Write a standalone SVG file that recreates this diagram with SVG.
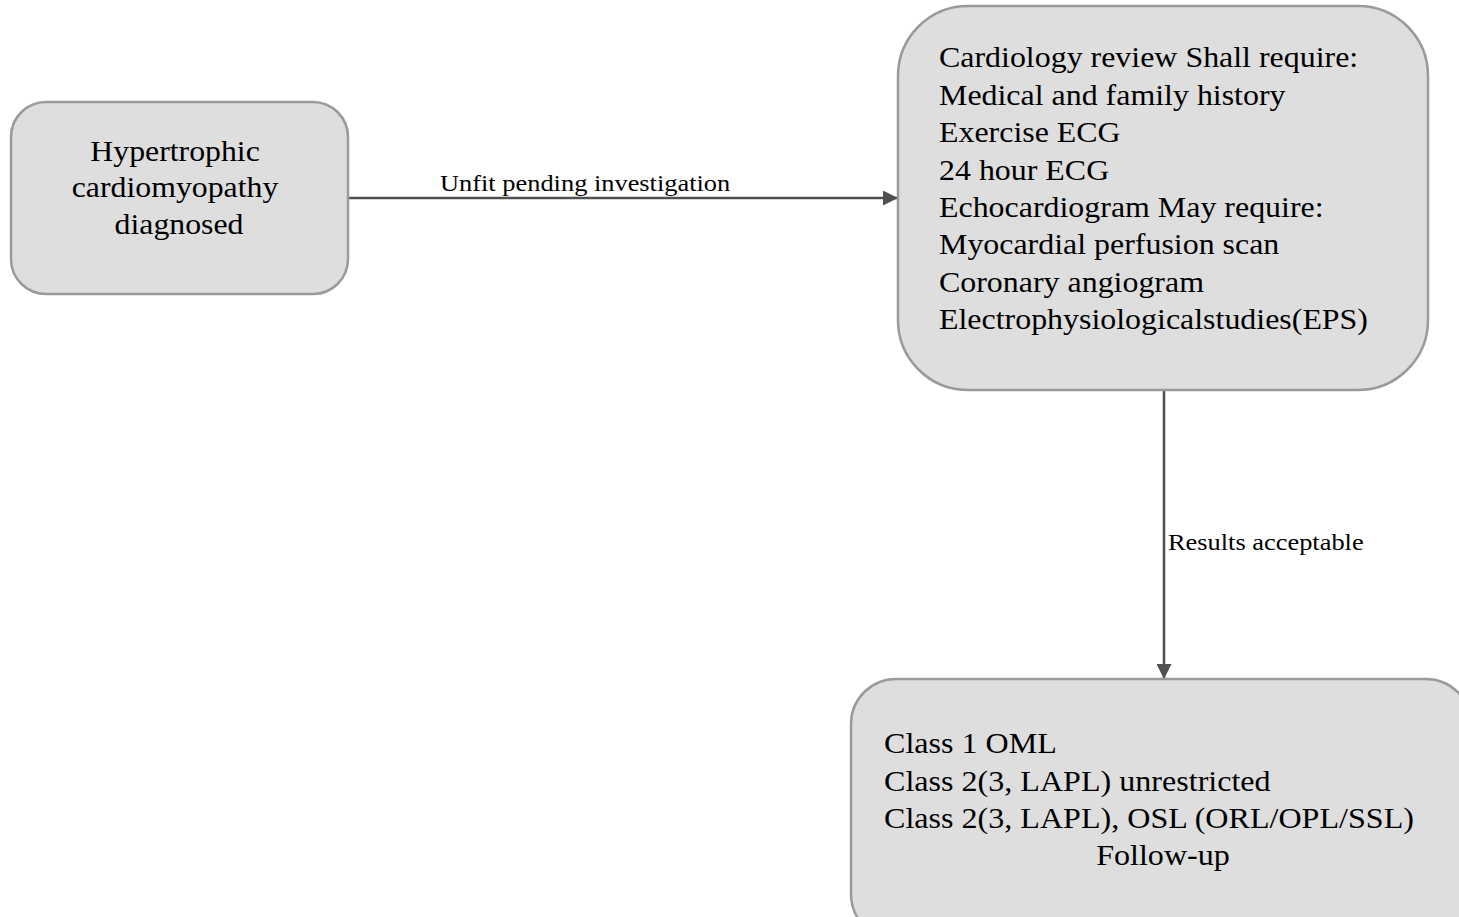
<svg xmlns="http://www.w3.org/2000/svg" width="1459" height="917" viewBox="0 0 1459 917">
  <style>
    .box { fill: #dedede; stroke: #9a9a9a; stroke-width: 2.5; }
    .node-text { font-family: "Liberation Serif", "Times New Roman", serif; font-size: 30px; fill: #000000; }
    .edge { stroke: #505050; stroke-width: 2.5; fill: none; }
    .edge-label { font-family: "Liberation Serif", "Times New Roman", serif; font-size: 24px; fill: #000000; }
  </style>
  <defs>
    <marker id="arrow" viewBox="0 0 10 10" refX="10" refY="5" markerWidth="15" markerHeight="15" markerUnits="userSpaceOnUse" orient="auto">
      <path d="M0,0 L10,5 L0,10 Z" fill="#505050"/>
    </marker>
  </defs>
  <rect width="1459" height="917" fill="#ffffff"/>

  <g id="connectors">
    <line class="edge" x1="348" y1="198" x2="898" y2="198" marker-end="url(#arrow)"/>
    <g transform="translate(440,0) scale(1.1,1)">
      <text class="edge-label" x="0" y="191">Unfit pending investigation</text>
    </g>
    <line class="edge" x1="1164" y1="391" x2="1164" y2="679" marker-end="url(#arrow)"/>
    <g transform="translate(1168,0) scale(1.1,1)">
      <text class="edge-label" x="0" y="550">Results acceptable</text>
    </g>
  </g>

  <g id="node-hcm">
    <rect class="box" x="11" y="102" width="337" height="192" rx="35" ry="35"/>
    <g transform="translate(179,0) scale(1.06,1)">
      <text class="node-text" text-anchor="middle">
        <tspan x="0" y="161">Hypertrophic</tspan>
        <tspan x="0" y="197">cardiomyopathy</tspan>
        <tspan x="0" y="234">diagnosed</tspan>
      </text>
    </g>
  </g>

  <g id="node-review">
    <rect class="box" x="898" y="6" width="530" height="384" rx="70" ry="70"/>
    <g transform="translate(939,0) scale(1.064,1)">
      <text class="node-text">
        <tspan x="0" y="67">Cardiology review Shall require:</tspan>
        <tspan x="0" y="105">Medical and family history</tspan>
        <tspan x="0" y="142">Exercise ECG</tspan>
        <tspan x="0" y="180">24 hour ECG</tspan>
        <tspan x="0" y="217">Echocardiogram May require:</tspan>
        <tspan x="0" y="254">Myocardial perfusion scan</tspan>
        <tspan x="0" y="292">Coronary angiogram</tspan>
        <tspan x="0" y="329">Electrophysiologicalstudies(EPS)</tspan>
      </text>
    </g>
  </g>

  <g id="node-outcome">
    <rect class="box" x="851" y="679" width="620" height="260" rx="45" ry="45"/>
    <g transform="translate(884,0) scale(1.07,1)">
      <text class="node-text">
        <tspan x="0" y="753">Class 1 OML</tspan>
        <tspan x="0" y="791">Class 2(3, LAPL) unrestricted</tspan>
        <tspan x="0" y="828">Class 2(3, LAPL), OSL (ORL/OPL/SSL)</tspan>
      </text>
    </g>
    <g transform="translate(1163,0) scale(1.07,1)">
      <text class="node-text" x="0" y="865" text-anchor="middle">Follow-up</text>
    </g>
  </g>
</svg>
